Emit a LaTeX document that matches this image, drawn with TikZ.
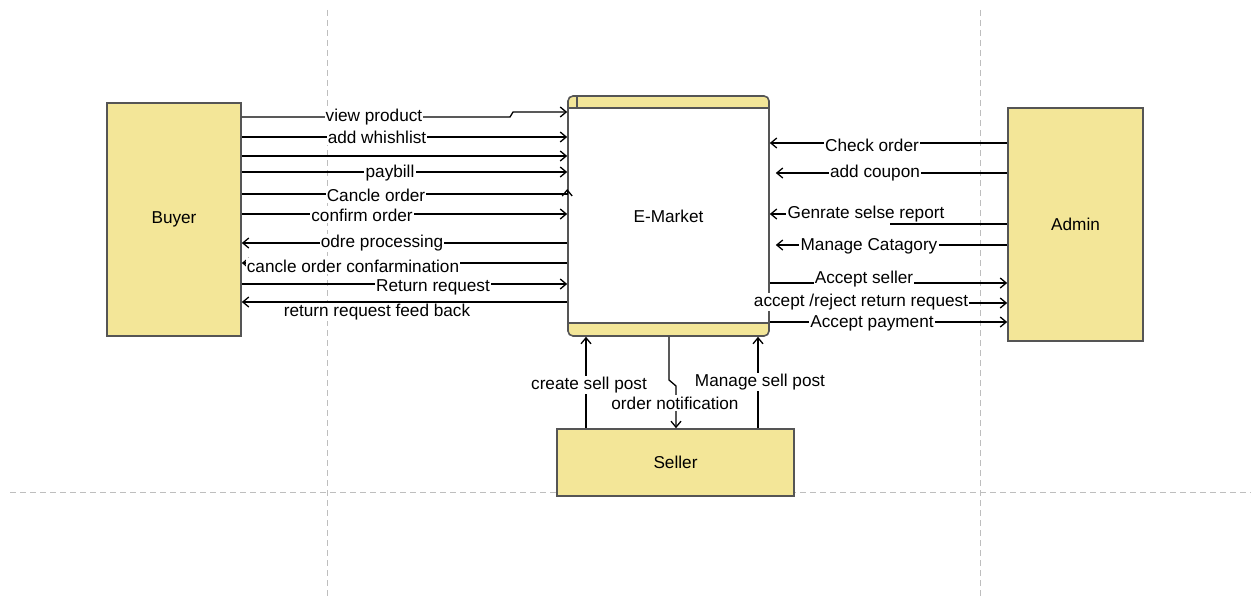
\documentclass[tikz,border=0pt]{standalone}
\usepackage{fontspec}
\setmainfont{Liberation Sans}
\usetikzlibrary{arrows.meta}
\definecolor{boxfill}{RGB}{243,230,152}
\definecolor{boxline}{RGB}{85,85,85}
\definecolor{gridgray}{RGB}{190,190,190}
\tikzset{
  every node/.style={font=\fontsize{8.6}{10}\selectfont},
  ent/.style={draw=boxline, fill=boxfill, line width=0.8pt, inner sep=0pt},
  flow/.style={draw=black, line width=0.65pt, -{Straight Barb[length=3pt,width=5pt]}},
  plain/.style={draw=black, line width=0.65pt},
  lbl/.style={fill=white, inner sep=0.6pt},
  grid/.style={draw=gridgray, line width=0.5pt, dash pattern=on 3pt off 2pt}
}
\begin{document}
\begin{tikzpicture}[x=0.5pt,y=-0.5pt]
\useasboundingbox (0,0) rectangle (1251,599);
% grid guides
\coordinate (g1t) at (327,10); \coordinate (g1b) at (327,599);
\coordinate (g2t) at (980,10); \coordinate (g2b) at (980,599);
\coordinate (g3l) at (10,492); \coordinate (g3r) at (1251,492);
\draw[grid] (g1t) -- (g1b);
\draw[grid] (g2t) -- (g2b);
\draw[grid] (g3l) -- (g3r);

% entities
\node[ent, minimum width=67pt, minimum height=116.5pt] (buyer) at (174,219.5) {\raisebox{-1.5pt}{Buyer}};
\node[ent, minimum width=67.5pt, minimum height=116.5pt] (admin) at (1075.5,224.5) {Admin};
\node[ent, minimum width=118.5pt, minimum height=33.5pt] (seller) at (675.5,462.5) {Seller};

% E-Market process
\fill[boxfill, rounded corners=2.5pt] (568,96) rectangle (769,336);
\draw[boxline, line width=0.8pt, fill=white] (568,108) rectangle (769,323);
\draw[boxline, line width=0.8pt] (577,96) -- (577,108);
\node[draw=boxline, line width=0.8pt, rounded corners=2.5pt, minimum width=100.5pt, minimum height=120pt, inner sep=0pt] (emarket) at (668.5,216) {E-Market};

% Buyer -> E-Market
\draw[flow] (buyer.east |- 0,117) -- (510,117) -- (513,112) -- (emarket.west |- 0,112);
\draw[flow] (buyer.east |- 0,137) -- (emarket.west |- 0,137);
\draw[flow] (buyer.east |- 0,156) -- (emarket.west |- 0,156);
\draw[flow] (buyer.east |- 0,172) -- (emarket.west |- 0,172);
\draw[flow] (buyer.east |- 0,194) -- (emarket.west |- 0,194) -- ++(0,-5);
\draw[flow] (buyer.east |- 0,214) -- (emarket.west |- 0,214);
\draw[flow] (emarket.west |- 0,243) -- (buyer.east |- 0,243);
\draw[flow] (emarket.west |- 0,263) -- (buyer.east |- 0,263);
\draw[flow] (buyer.east |- 0,284) -- (emarket.west |- 0,284);
\draw[flow] (emarket.west |- 0,302) -- (buyer.east |- 0,302);

\node[lbl] (l1) at (374,117) {view product};
\node[lbl] (l2) at (377,137.5) {add whishlist};
\node[lbl] (l4) at (390,173) {paybill};
\node[lbl] (l5) at (376,195) {Cancle order};
\node[lbl] (l6) at (362,215) {confirm order};
\node[lbl] (l7) at (382,243) {odre processing};
\node[lbl] (l8) at (353,266) {cancle order confarmination};
\node[lbl] (l9) at (433,287) {Return request};
\node[lbl] (l10) at (377,312) {return request feed back};

% Admin <-> E-Market
\draw[flow] (admin.west |- 0,143) -- (emarket.east |- 0,143);
\draw[flow, shorten >=3pt] (admin.west |- 0,173) -- (emarket.east |- 0,173);
\coordinate (gr1) at (890,224);
\coordinate (gr2) at (790,214);
\draw[plain] (admin.west |- 0,224) -- (gr1);
\draw[flow] (gr2) -- (emarket.east |- 0,214);
\draw[flow, shorten >=3pt] (admin.west |- 0,245) -- (emarket.east |- 0,245);
\draw[flow] (emarket.east |- 0,283) -- (admin.west |- 0,283);
\draw[flow] (emarket.east |- 0,303) -- (admin.west |- 0,303);
\draw[flow] (emarket.east |- 0,322) -- (admin.west |- 0,322);

\node[lbl] (r1) at (872,145) {Check order};
\node[lbl] (r2) at (875,173) {add coupon};
\node[lbl] (r3) at (866,214) {Genrate selse report};
\node[lbl] (r4) at (869,246) {Manage Catagory};
\node[lbl] (r5) at (864,279) {Accept seller};
\node[lbl] (r6) at (861,302) {accept /reject return request};
\node[lbl] (r7) at (872,323) {Accept payment};

% Seller <-> E-Market
\draw[flow] (seller.north -| 586,0) -- (emarket.south -| 586,0);
\draw[flow] (emarket.south -| 669,0) -- (669,380) -- (676,386) -- (seller.north -| 676,0);
\draw[flow] (seller.north -| 758,0) -- (emarket.south -| 758,0);

\node[lbl] (b1) at (589,385) {create sell post};
\node[lbl] (b2) at (675,403) {order notification};
\node[lbl] (b3) at (760,382) {Manage sell post};
\end{tikzpicture}
\end{document}
